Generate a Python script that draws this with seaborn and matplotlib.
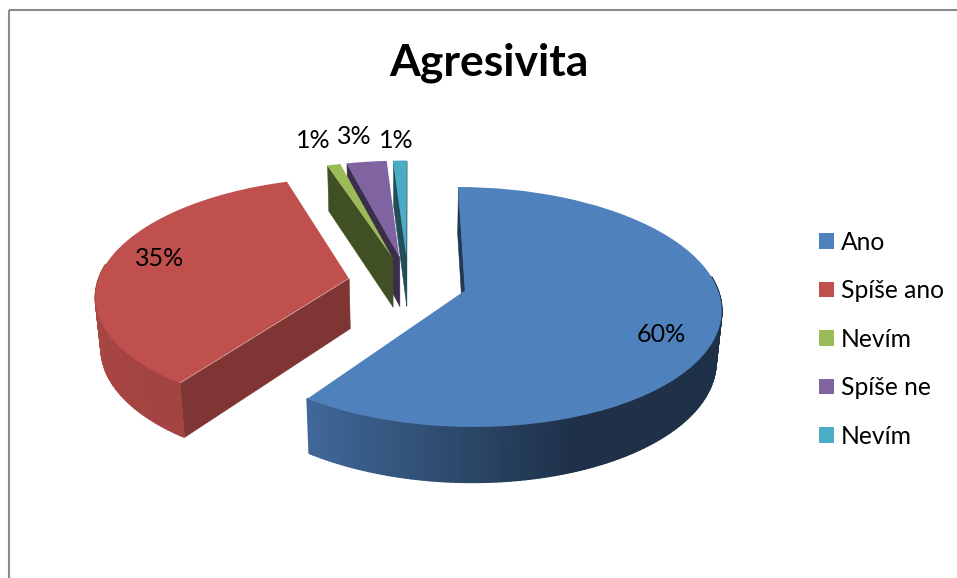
import numpy as np
import matplotlib
matplotlib.use("Agg")
import matplotlib.pyplot as plt
from matplotlib.collections import PolyCollection
from matplotlib.patches import Rectangle
from matplotlib.transforms import Transform
import seaborn as sns

title = "Agresivita"
categories = ["Ano", "Spíše ano", "Nevím", "Spíše ne", "Nevím"]
values = [59.8, 35.2, 1, 3, 1]
face_colors = ["#4f81bd", "#c0504d", "#9bbb59", "#8064a2", "#4bacc6"]
wall_factor = [0.42, 0.66, 0.42, 0.46, 0.45]
explode = [0.235, 0.24, 0.23, 0.23, 0.23]
label_pos = [(661, 334), (160, 259), (313, 140), (354, 137), (396, 140)]

sns.set_theme(style="white")
plt.rcParams["font.family"] = ["Lato", "DejaVu Sans"]
palette = sns.color_palette(face_colors)

CX, CY, RX, RY, K, DZ, M = 408.0, 282.4, 251.0, 115.5, 0.1346, 51.0, 0.018


def project(x, y, z=0.0):
    x, y = np.asarray(x, float), np.asarray(y, float)
    w = 1 + K * y + M * z
    return CX + RX * x / w, CY - (RY * y - DZ * z) / w


class Perspective(Transform):
    input_dims = output_dims = 2

    def transform_non_affine(self, values):
        px, py = project(values[:, 0], values[:, 1])
        return np.column_stack([px, py])


def shade(color, f):
    return tuple(min(1, c * f) for c in color)


def arc_factor(px):
    return np.interp(px, [100, 310, 573], [0.87, 0.8, 0.38])


fig = plt.figure(figsize=(9.57, 5.78), dpi=100, facecolor="white")
ax = fig.add_axes([0, 0, 1, 1])
wedges, _ = ax.pie(values, explode=explode, startangle=90,
                   counterclock=False, colors=palette, radius=1,
                   wedgeprops=dict(linewidth=0))
ax.set_aspect("auto")
ax.set_xlim(0, 957)
ax.set_ylim(578, 0)
ax.axis("off")

persp = Perspective() + ax.transData
order = [4, 3, 2, 1, 0]
for z, i in enumerate(order):
    wd = wedges[i]
    wd.set_transform(persp)
    wd.set_zorder(3 * z + 3)
    cx, cy = wd.center
    t1, t2 = wd.theta1, wd.theta2
    col = palette[i]

    # radial side walls
    for t, sign in ((t1, -1), (t2, 1)):
        ox, oy = cx + np.cos(np.radians(t)), cy + np.sin(np.radians(t))
        a = np.array(project(cx, cy, 0.0))
        b = np.array(project(ox, oy, 0.0))
        c = np.array(project(ox, oy, 1.0))
        d = np.array(project(cx, cy, 1.0))
        cross = (b[0] - a[0]) * (d[1] - a[1]) - (b[1] - a[1]) * (d[0] - a[0])
        if sign * cross > 0:
            continue
        wc = shade(col, wall_factor[i])
        ax.add_collection(PolyCollection([[a, b, c, d]], facecolors=[wc],
                                         edgecolors=[wc], linewidths=0.4,
                                         zorder=3 * z + 1))

    # outer curved side, only where it faces the viewer
    th = np.radians(np.arange(t1, t2 + 1e-6, 1.0))
    th = np.append(th, np.radians(t2))
    quads, cols = [], []
    for a0, a1 in zip(th[:-1], th[1:]):
        if np.sin((a0 + a1) / 2) > 0.12:
            continue
        x0, y0 = cx + np.cos(a0), cy + np.sin(a0)
        x1, y1 = cx + np.cos(a1), cy + np.sin(a1)
        q = [project(x0, y0, 0.0), project(x1, y1, 0.0),
             project(x1, y1, 1.0), project(x0, y0, 1.0)]
        q = [(float(p), float(r)) for p, r in q]
        quads.append(q)
        cols.append(shade(col, arc_factor(q[0][0])))
    if quads:
        ax.add_collection(PolyCollection(quads, facecolors=cols, edgecolors=cols,
                                         linewidths=1.2, zorder=3 * z + 2))

for v, (lx, ly) in zip(values, label_pos):
    ax.text(lx, ly, f"{round(v)}%", ha="center", va="center", fontsize=18,
            color="black", zorder=30)

ax.text(489, 63, title, ha="center", va="center", fontsize=32,
        fontweight="bold", color="black", zorder=30)

ax.add_patch(Rectangle((9.2, 9.7), 1200, 1200, fill=False, edgecolor="#8a8a8a",
                       linewidth=1.5, zorder=1))

ax.legend(wedges, categories, loc="upper left",
          bbox_to_anchor=(819 / 957, 1 - 230.5 / 578), frameon=False, fontsize=17.7,
          handlelength=0.61, handleheight=0.61, handletextpad=0.29,
          labelspacing=1.04, borderpad=0, borderaxespad=0, labelcolor="black")

fig.savefig("out.png", dpi=100)
